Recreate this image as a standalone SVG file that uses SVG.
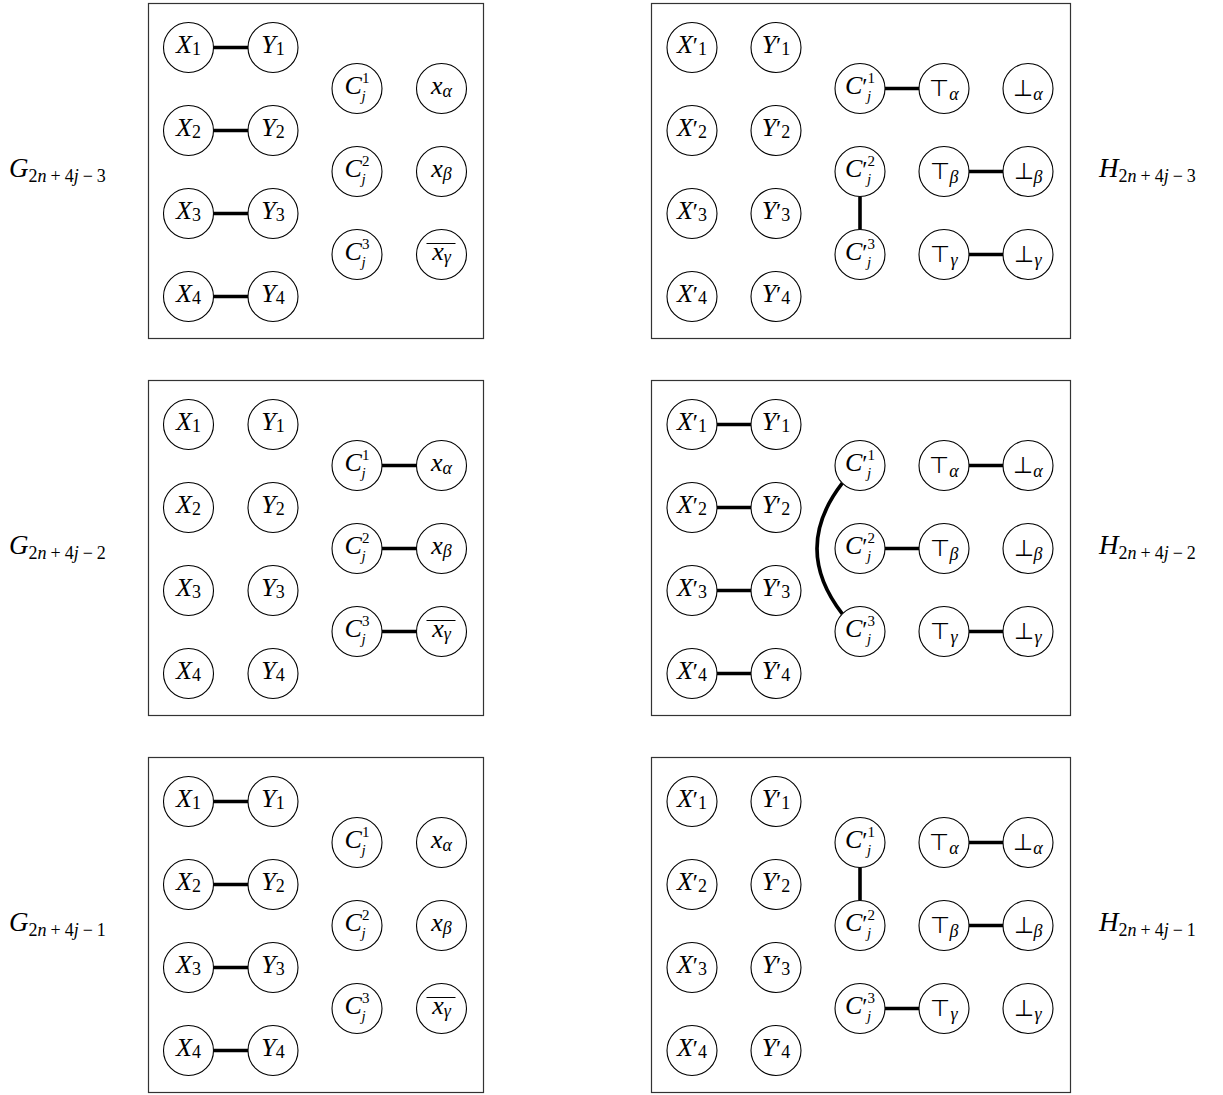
<svg xmlns="http://www.w3.org/2000/svg" width="1223" height="1095" viewBox="0 0 1223 1095">
<style>
.box{fill:none;stroke:#333;stroke-width:1.2}
.n circle{fill:#fff;stroke:#000;stroke-width:1.1}
.t{font-family:"Liberation Serif",serif;font-size:26px;text-anchor:middle;fill:#000}
.lab{font-family:"Liberation Serif",serif;font-size:27px;fill:#000}
.i{font-style:italic}
.s{font-size:18px}
.ss{font-size:15px}
.p{font-size:24px}
.ls{font-size:18px}
.op{font-family:"DejaVu Sans",sans-serif;font-size:23px;font-style:normal;font-weight:200}
.e{stroke:#000;stroke-width:3.6;fill:none}
.ol{stroke:#000;stroke-width:1}
</style>
<rect width="1223" height="1095" fill="#fff"/>
<g id="frames">
<rect class="box" x="148.5" y="3.5" width="335" height="335"/>
<rect class="box" x="651.5" y="3.5" width="419" height="335"/>
<rect class="box" x="148.5" y="380.5" width="335" height="335"/>
<rect class="box" x="651.5" y="380.5" width="419" height="335"/>
<rect class="box" x="148.5" y="757.5" width="335" height="335"/>
<rect class="box" x="651.5" y="757.5" width="419" height="335"/>
</g>
<g id="labels">
<text class="lab" x="9" y="177"><tspan class="i">G</tspan><tspan class="ls" dy="5">2</tspan><tspan class="ls i">n</tspan><tspan class="ls" dx="4">+</tspan><tspan class="ls" dx="4">4</tspan><tspan class="ls i">j</tspan><tspan class="ls" dx="4">−</tspan><tspan class="ls" dx="4">3</tspan></text>
<text class="lab" x="9" y="554"><tspan class="i">G</tspan><tspan class="ls" dy="5">2</tspan><tspan class="ls i">n</tspan><tspan class="ls" dx="4">+</tspan><tspan class="ls" dx="4">4</tspan><tspan class="ls i">j</tspan><tspan class="ls" dx="4">−</tspan><tspan class="ls" dx="4">2</tspan></text>
<text class="lab" x="9" y="931"><tspan class="i">G</tspan><tspan class="ls" dy="5">2</tspan><tspan class="ls i">n</tspan><tspan class="ls" dx="4">+</tspan><tspan class="ls" dx="4">4</tspan><tspan class="ls i">j</tspan><tspan class="ls" dx="4">−</tspan><tspan class="ls" dx="4">1</tspan></text>
<text class="lab" x="1099" y="177"><tspan class="i">H</tspan><tspan class="ls" dy="5">2</tspan><tspan class="ls i">n</tspan><tspan class="ls" dx="4">+</tspan><tspan class="ls" dx="4">4</tspan><tspan class="ls i">j</tspan><tspan class="ls" dx="4">−</tspan><tspan class="ls" dx="4">3</tspan></text>
<text class="lab" x="1099" y="554"><tspan class="i">H</tspan><tspan class="ls" dy="5">2</tspan><tspan class="ls i">n</tspan><tspan class="ls" dx="4">+</tspan><tspan class="ls" dx="4">4</tspan><tspan class="ls i">j</tspan><tspan class="ls" dx="4">−</tspan><tspan class="ls" dx="4">2</tspan></text>
<text class="lab" x="1099" y="931"><tspan class="i">H</tspan><tspan class="ls" dy="5">2</tspan><tspan class="ls i">n</tspan><tspan class="ls" dx="4">+</tspan><tspan class="ls" dx="4">4</tspan><tspan class="ls i">j</tspan><tspan class="ls" dx="4">−</tspan><tspan class="ls" dx="4">1</tspan></text>
</g>
<g id="connectors">
<line class="e" x1="213.5" y1="47.5" x2="248" y2="47.5"/>
<line class="e" x1="213.5" y1="130.5" x2="248" y2="130.5"/>
<line class="e" x1="213.5" y1="213.5" x2="248" y2="213.5"/>
<line class="e" x1="213.5" y1="296.5" x2="248" y2="296.5"/>
<line class="e" x1="885" y1="88.5" x2="919" y2="88.5"/>
<line class="e" x1="860" y1="196.5" x2="860" y2="229.5"/>
<line class="e" x1="969" y1="171.5" x2="1003" y2="171.5"/>
<line class="e" x1="969" y1="254.5" x2="1003" y2="254.5"/>
<line class="e" x1="382" y1="465.5" x2="416.5" y2="465.5"/>
<line class="e" x1="382" y1="548.5" x2="416.5" y2="548.5"/>
<line class="e" x1="382" y1="631.5" x2="416.5" y2="631.5"/>
<line class="e" x1="717" y1="424.5" x2="751" y2="424.5"/>
<line class="e" x1="717" y1="507.5" x2="751" y2="507.5"/>
<line class="e" x1="717" y1="590.5" x2="751" y2="590.5"/>
<line class="e" x1="717" y1="673.5" x2="751" y2="673.5"/>
<path class="e" d="M842.3,483.2 Q791.7,548.5 842.3,613.8"/>
<line class="e" x1="885" y1="548.5" x2="919" y2="548.5"/>
<line class="e" x1="969" y1="465.5" x2="1003" y2="465.5"/>
<line class="e" x1="969" y1="631.5" x2="1003" y2="631.5"/>
<line class="e" x1="213.5" y1="801.5" x2="248" y2="801.5"/>
<line class="e" x1="213.5" y1="884.5" x2="248" y2="884.5"/>
<line class="e" x1="213.5" y1="967.5" x2="248" y2="967.5"/>
<line class="e" x1="213.5" y1="1050.5" x2="248" y2="1050.5"/>
<line class="e" x1="969" y1="842.5" x2="1003" y2="842.5"/>
<line class="e" x1="860" y1="867.5" x2="860" y2="900.5"/>
<line class="e" x1="969" y1="925.5" x2="1003" y2="925.5"/>
<line class="e" x1="885" y1="1008.5" x2="919" y2="1008.5"/>
</g>
<g id="G1">
<g class="n" id="G1-X1" transform="translate(188.5,47.5)"><circle r="25"/><text class="t" y="5"><tspan class="i">X</tspan><tspan class="s" dy="2">1</tspan></text></g>
<g class="n" id="G1-Y1" transform="translate(273,47.5)"><circle r="25"/><text class="t" y="5"><tspan class="i">Y</tspan><tspan class="s" dy="2">1</tspan></text></g>
<g class="n" id="G1-X2" transform="translate(188.5,130.5)"><circle r="25"/><text class="t" y="5"><tspan class="i">X</tspan><tspan class="s" dy="2">2</tspan></text></g>
<g class="n" id="G1-Y2" transform="translate(273,130.5)"><circle r="25"/><text class="t" y="5"><tspan class="i">Y</tspan><tspan class="s" dy="2">2</tspan></text></g>
<g class="n" id="G1-X3" transform="translate(188.5,213.5)"><circle r="25"/><text class="t" y="5"><tspan class="i">X</tspan><tspan class="s" dy="2">3</tspan></text></g>
<g class="n" id="G1-Y3" transform="translate(273,213.5)"><circle r="25"/><text class="t" y="5"><tspan class="i">Y</tspan><tspan class="s" dy="2">3</tspan></text></g>
<g class="n" id="G1-X4" transform="translate(188.5,296.5)"><circle r="25"/><text class="t" y="5"><tspan class="i">X</tspan><tspan class="s" dy="2">4</tspan></text></g>
<g class="n" id="G1-Y4" transform="translate(273,296.5)"><circle r="25"/><text class="t" y="5"><tspan class="i">Y</tspan><tspan class="s" dy="2">4</tspan></text></g>
<g class="n" id="G1-C1" transform="translate(357,88.5)"><circle r="25"/><text class="t" y="5"><tspan class="i">C</tspan><tspan class="ss" dy="-11">1</tspan><tspan class="ss i" dx="-8" dy="18">j</tspan></text></g>
<g class="n" id="G1-C2" transform="translate(357,171.5)"><circle r="25"/><text class="t" y="5"><tspan class="i">C</tspan><tspan class="ss" dy="-11">2</tspan><tspan class="ss i" dx="-8" dy="18">j</tspan></text></g>
<g class="n" id="G1-C3" transform="translate(357,254.5)"><circle r="25"/><text class="t" y="5"><tspan class="i">C</tspan><tspan class="ss" dy="-11">3</tspan><tspan class="ss i" dx="-8" dy="18">j</tspan></text></g>
<g class="n" id="G1-xa" transform="translate(441.5,88.5)"><circle r="25"/><text class="t" y="5"><tspan class="i">x</tspan><tspan class="s i" dy="3">α</tspan></text></g>
<g class="n" id="G1-xb" transform="translate(441.5,171.5)"><circle r="25"/><text class="t" y="5"><tspan class="i">x</tspan><tspan class="s i" dy="3">β</tspan></text></g>
<g class="n" id="G1-xg" transform="translate(441.5,254.5)"><circle r="25"/><text class="t" y="5"><tspan class="i">x</tspan><tspan class="s i" dy="3">γ</tspan></text><line class="ol" x1="-15" y1="-11" x2="14" y2="-11"/></g>
</g>
<g id="H1">
<g class="n" id="H1-X1" transform="translate(692,47.5)"><circle r="25"/><text class="t" y="5"><tspan class="i">X</tspan><tspan class="p">′</tspan><tspan class="s" dy="2">1</tspan></text></g>
<g class="n" id="H1-Y1" transform="translate(776,47.5)"><circle r="25"/><text class="t" y="5"><tspan class="i">Y</tspan><tspan class="p">′</tspan><tspan class="s" dy="2">1</tspan></text></g>
<g class="n" id="H1-X2" transform="translate(692,130.5)"><circle r="25"/><text class="t" y="5"><tspan class="i">X</tspan><tspan class="p">′</tspan><tspan class="s" dy="2">2</tspan></text></g>
<g class="n" id="H1-Y2" transform="translate(776,130.5)"><circle r="25"/><text class="t" y="5"><tspan class="i">Y</tspan><tspan class="p">′</tspan><tspan class="s" dy="2">2</tspan></text></g>
<g class="n" id="H1-X3" transform="translate(692,213.5)"><circle r="25"/><text class="t" y="5"><tspan class="i">X</tspan><tspan class="p">′</tspan><tspan class="s" dy="2">3</tspan></text></g>
<g class="n" id="H1-Y3" transform="translate(776,213.5)"><circle r="25"/><text class="t" y="5"><tspan class="i">Y</tspan><tspan class="p">′</tspan><tspan class="s" dy="2">3</tspan></text></g>
<g class="n" id="H1-X4" transform="translate(692,296.5)"><circle r="25"/><text class="t" y="5"><tspan class="i">X</tspan><tspan class="p">′</tspan><tspan class="s" dy="2">4</tspan></text></g>
<g class="n" id="H1-Y4" transform="translate(776,296.5)"><circle r="25"/><text class="t" y="5"><tspan class="i">Y</tspan><tspan class="p">′</tspan><tspan class="s" dy="2">4</tspan></text></g>
<g class="n" id="H1-C1" transform="translate(860,88.5)"><circle r="25"/><text class="t" y="5"><tspan class="i">C</tspan><tspan class="p">′</tspan><tspan class="ss" dy="-11">1</tspan><tspan class="ss i" dx="-8" dy="18">j</tspan></text></g>
<g class="n" id="H1-C2" transform="translate(860,171.5)"><circle r="25"/><text class="t" y="5"><tspan class="i">C</tspan><tspan class="p">′</tspan><tspan class="ss" dy="-11">2</tspan><tspan class="ss i" dx="-8" dy="18">j</tspan></text></g>
<g class="n" id="H1-C3" transform="translate(860,254.5)"><circle r="25"/><text class="t" y="5"><tspan class="i">C</tspan><tspan class="p">′</tspan><tspan class="ss" dy="-11">3</tspan><tspan class="ss i" dx="-8" dy="18">j</tspan></text></g>
<g class="n" id="H1-Ta" transform="translate(944,88.5)"><circle r="25"/><text class="t" y="7"><tspan class="op">⊤</tspan><tspan class="s i" dy="4">α</tspan></text></g>
<g class="n" id="H1-Tb" transform="translate(944,171.5)"><circle r="25"/><text class="t" y="7"><tspan class="op">⊤</tspan><tspan class="s i" dy="4">β</tspan></text></g>
<g class="n" id="H1-Tg" transform="translate(944,254.5)"><circle r="25"/><text class="t" y="7"><tspan class="op">⊤</tspan><tspan class="s i" dy="4">γ</tspan></text></g>
<g class="n" id="H1-Fa" transform="translate(1028,88.5)"><circle r="25"/><text class="t" y="7"><tspan class="op">⊥</tspan><tspan class="s i" dy="4">α</tspan></text></g>
<g class="n" id="H1-Fb" transform="translate(1028,171.5)"><circle r="25"/><text class="t" y="7"><tspan class="op">⊥</tspan><tspan class="s i" dy="4">β</tspan></text></g>
<g class="n" id="H1-Fg" transform="translate(1028,254.5)"><circle r="25"/><text class="t" y="7"><tspan class="op">⊥</tspan><tspan class="s i" dy="4">γ</tspan></text></g>
</g>
<g id="G2">
<g class="n" id="G2-X1" transform="translate(188.5,424.5)"><circle r="25"/><text class="t" y="5"><tspan class="i">X</tspan><tspan class="s" dy="2">1</tspan></text></g>
<g class="n" id="G2-Y1" transform="translate(273,424.5)"><circle r="25"/><text class="t" y="5"><tspan class="i">Y</tspan><tspan class="s" dy="2">1</tspan></text></g>
<g class="n" id="G2-X2" transform="translate(188.5,507.5)"><circle r="25"/><text class="t" y="5"><tspan class="i">X</tspan><tspan class="s" dy="2">2</tspan></text></g>
<g class="n" id="G2-Y2" transform="translate(273,507.5)"><circle r="25"/><text class="t" y="5"><tspan class="i">Y</tspan><tspan class="s" dy="2">2</tspan></text></g>
<g class="n" id="G2-X3" transform="translate(188.5,590.5)"><circle r="25"/><text class="t" y="5"><tspan class="i">X</tspan><tspan class="s" dy="2">3</tspan></text></g>
<g class="n" id="G2-Y3" transform="translate(273,590.5)"><circle r="25"/><text class="t" y="5"><tspan class="i">Y</tspan><tspan class="s" dy="2">3</tspan></text></g>
<g class="n" id="G2-X4" transform="translate(188.5,673.5)"><circle r="25"/><text class="t" y="5"><tspan class="i">X</tspan><tspan class="s" dy="2">4</tspan></text></g>
<g class="n" id="G2-Y4" transform="translate(273,673.5)"><circle r="25"/><text class="t" y="5"><tspan class="i">Y</tspan><tspan class="s" dy="2">4</tspan></text></g>
<g class="n" id="G2-C1" transform="translate(357,465.5)"><circle r="25"/><text class="t" y="5"><tspan class="i">C</tspan><tspan class="ss" dy="-11">1</tspan><tspan class="ss i" dx="-8" dy="18">j</tspan></text></g>
<g class="n" id="G2-C2" transform="translate(357,548.5)"><circle r="25"/><text class="t" y="5"><tspan class="i">C</tspan><tspan class="ss" dy="-11">2</tspan><tspan class="ss i" dx="-8" dy="18">j</tspan></text></g>
<g class="n" id="G2-C3" transform="translate(357,631.5)"><circle r="25"/><text class="t" y="5"><tspan class="i">C</tspan><tspan class="ss" dy="-11">3</tspan><tspan class="ss i" dx="-8" dy="18">j</tspan></text></g>
<g class="n" id="G2-xa" transform="translate(441.5,465.5)"><circle r="25"/><text class="t" y="5"><tspan class="i">x</tspan><tspan class="s i" dy="3">α</tspan></text></g>
<g class="n" id="G2-xb" transform="translate(441.5,548.5)"><circle r="25"/><text class="t" y="5"><tspan class="i">x</tspan><tspan class="s i" dy="3">β</tspan></text></g>
<g class="n" id="G2-xg" transform="translate(441.5,631.5)"><circle r="25"/><text class="t" y="5"><tspan class="i">x</tspan><tspan class="s i" dy="3">γ</tspan></text><line class="ol" x1="-15" y1="-11" x2="14" y2="-11"/></g>
</g>
<g id="H2">
<g class="n" id="H2-X1" transform="translate(692,424.5)"><circle r="25"/><text class="t" y="5"><tspan class="i">X</tspan><tspan class="p">′</tspan><tspan class="s" dy="2">1</tspan></text></g>
<g class="n" id="H2-Y1" transform="translate(776,424.5)"><circle r="25"/><text class="t" y="5"><tspan class="i">Y</tspan><tspan class="p">′</tspan><tspan class="s" dy="2">1</tspan></text></g>
<g class="n" id="H2-X2" transform="translate(692,507.5)"><circle r="25"/><text class="t" y="5"><tspan class="i">X</tspan><tspan class="p">′</tspan><tspan class="s" dy="2">2</tspan></text></g>
<g class="n" id="H2-Y2" transform="translate(776,507.5)"><circle r="25"/><text class="t" y="5"><tspan class="i">Y</tspan><tspan class="p">′</tspan><tspan class="s" dy="2">2</tspan></text></g>
<g class="n" id="H2-X3" transform="translate(692,590.5)"><circle r="25"/><text class="t" y="5"><tspan class="i">X</tspan><tspan class="p">′</tspan><tspan class="s" dy="2">3</tspan></text></g>
<g class="n" id="H2-Y3" transform="translate(776,590.5)"><circle r="25"/><text class="t" y="5"><tspan class="i">Y</tspan><tspan class="p">′</tspan><tspan class="s" dy="2">3</tspan></text></g>
<g class="n" id="H2-X4" transform="translate(692,673.5)"><circle r="25"/><text class="t" y="5"><tspan class="i">X</tspan><tspan class="p">′</tspan><tspan class="s" dy="2">4</tspan></text></g>
<g class="n" id="H2-Y4" transform="translate(776,673.5)"><circle r="25"/><text class="t" y="5"><tspan class="i">Y</tspan><tspan class="p">′</tspan><tspan class="s" dy="2">4</tspan></text></g>
<g class="n" id="H2-C1" transform="translate(860,465.5)"><circle r="25"/><text class="t" y="5"><tspan class="i">C</tspan><tspan class="p">′</tspan><tspan class="ss" dy="-11">1</tspan><tspan class="ss i" dx="-8" dy="18">j</tspan></text></g>
<g class="n" id="H2-C2" transform="translate(860,548.5)"><circle r="25"/><text class="t" y="5"><tspan class="i">C</tspan><tspan class="p">′</tspan><tspan class="ss" dy="-11">2</tspan><tspan class="ss i" dx="-8" dy="18">j</tspan></text></g>
<g class="n" id="H2-C3" transform="translate(860,631.5)"><circle r="25"/><text class="t" y="5"><tspan class="i">C</tspan><tspan class="p">′</tspan><tspan class="ss" dy="-11">3</tspan><tspan class="ss i" dx="-8" dy="18">j</tspan></text></g>
<g class="n" id="H2-Ta" transform="translate(944,465.5)"><circle r="25"/><text class="t" y="7"><tspan class="op">⊤</tspan><tspan class="s i" dy="4">α</tspan></text></g>
<g class="n" id="H2-Tb" transform="translate(944,548.5)"><circle r="25"/><text class="t" y="7"><tspan class="op">⊤</tspan><tspan class="s i" dy="4">β</tspan></text></g>
<g class="n" id="H2-Tg" transform="translate(944,631.5)"><circle r="25"/><text class="t" y="7"><tspan class="op">⊤</tspan><tspan class="s i" dy="4">γ</tspan></text></g>
<g class="n" id="H2-Fa" transform="translate(1028,465.5)"><circle r="25"/><text class="t" y="7"><tspan class="op">⊥</tspan><tspan class="s i" dy="4">α</tspan></text></g>
<g class="n" id="H2-Fb" transform="translate(1028,548.5)"><circle r="25"/><text class="t" y="7"><tspan class="op">⊥</tspan><tspan class="s i" dy="4">β</tspan></text></g>
<g class="n" id="H2-Fg" transform="translate(1028,631.5)"><circle r="25"/><text class="t" y="7"><tspan class="op">⊥</tspan><tspan class="s i" dy="4">γ</tspan></text></g>
</g>
<g id="G3">
<g class="n" id="G3-X1" transform="translate(188.5,801.5)"><circle r="25"/><text class="t" y="5"><tspan class="i">X</tspan><tspan class="s" dy="2">1</tspan></text></g>
<g class="n" id="G3-Y1" transform="translate(273,801.5)"><circle r="25"/><text class="t" y="5"><tspan class="i">Y</tspan><tspan class="s" dy="2">1</tspan></text></g>
<g class="n" id="G3-X2" transform="translate(188.5,884.5)"><circle r="25"/><text class="t" y="5"><tspan class="i">X</tspan><tspan class="s" dy="2">2</tspan></text></g>
<g class="n" id="G3-Y2" transform="translate(273,884.5)"><circle r="25"/><text class="t" y="5"><tspan class="i">Y</tspan><tspan class="s" dy="2">2</tspan></text></g>
<g class="n" id="G3-X3" transform="translate(188.5,967.5)"><circle r="25"/><text class="t" y="5"><tspan class="i">X</tspan><tspan class="s" dy="2">3</tspan></text></g>
<g class="n" id="G3-Y3" transform="translate(273,967.5)"><circle r="25"/><text class="t" y="5"><tspan class="i">Y</tspan><tspan class="s" dy="2">3</tspan></text></g>
<g class="n" id="G3-X4" transform="translate(188.5,1050.5)"><circle r="25"/><text class="t" y="5"><tspan class="i">X</tspan><tspan class="s" dy="2">4</tspan></text></g>
<g class="n" id="G3-Y4" transform="translate(273,1050.5)"><circle r="25"/><text class="t" y="5"><tspan class="i">Y</tspan><tspan class="s" dy="2">4</tspan></text></g>
<g class="n" id="G3-C1" transform="translate(357,842.5)"><circle r="25"/><text class="t" y="5"><tspan class="i">C</tspan><tspan class="ss" dy="-11">1</tspan><tspan class="ss i" dx="-8" dy="18">j</tspan></text></g>
<g class="n" id="G3-C2" transform="translate(357,925.5)"><circle r="25"/><text class="t" y="5"><tspan class="i">C</tspan><tspan class="ss" dy="-11">2</tspan><tspan class="ss i" dx="-8" dy="18">j</tspan></text></g>
<g class="n" id="G3-C3" transform="translate(357,1008.5)"><circle r="25"/><text class="t" y="5"><tspan class="i">C</tspan><tspan class="ss" dy="-11">3</tspan><tspan class="ss i" dx="-8" dy="18">j</tspan></text></g>
<g class="n" id="G3-xa" transform="translate(441.5,842.5)"><circle r="25"/><text class="t" y="5"><tspan class="i">x</tspan><tspan class="s i" dy="3">α</tspan></text></g>
<g class="n" id="G3-xb" transform="translate(441.5,925.5)"><circle r="25"/><text class="t" y="5"><tspan class="i">x</tspan><tspan class="s i" dy="3">β</tspan></text></g>
<g class="n" id="G3-xg" transform="translate(441.5,1008.5)"><circle r="25"/><text class="t" y="5"><tspan class="i">x</tspan><tspan class="s i" dy="3">γ</tspan></text><line class="ol" x1="-15" y1="-11" x2="14" y2="-11"/></g>
</g>
<g id="H3">
<g class="n" id="H3-X1" transform="translate(692,801.5)"><circle r="25"/><text class="t" y="5"><tspan class="i">X</tspan><tspan class="p">′</tspan><tspan class="s" dy="2">1</tspan></text></g>
<g class="n" id="H3-Y1" transform="translate(776,801.5)"><circle r="25"/><text class="t" y="5"><tspan class="i">Y</tspan><tspan class="p">′</tspan><tspan class="s" dy="2">1</tspan></text></g>
<g class="n" id="H3-X2" transform="translate(692,884.5)"><circle r="25"/><text class="t" y="5"><tspan class="i">X</tspan><tspan class="p">′</tspan><tspan class="s" dy="2">2</tspan></text></g>
<g class="n" id="H3-Y2" transform="translate(776,884.5)"><circle r="25"/><text class="t" y="5"><tspan class="i">Y</tspan><tspan class="p">′</tspan><tspan class="s" dy="2">2</tspan></text></g>
<g class="n" id="H3-X3" transform="translate(692,967.5)"><circle r="25"/><text class="t" y="5"><tspan class="i">X</tspan><tspan class="p">′</tspan><tspan class="s" dy="2">3</tspan></text></g>
<g class="n" id="H3-Y3" transform="translate(776,967.5)"><circle r="25"/><text class="t" y="5"><tspan class="i">Y</tspan><tspan class="p">′</tspan><tspan class="s" dy="2">3</tspan></text></g>
<g class="n" id="H3-X4" transform="translate(692,1050.5)"><circle r="25"/><text class="t" y="5"><tspan class="i">X</tspan><tspan class="p">′</tspan><tspan class="s" dy="2">4</tspan></text></g>
<g class="n" id="H3-Y4" transform="translate(776,1050.5)"><circle r="25"/><text class="t" y="5"><tspan class="i">Y</tspan><tspan class="p">′</tspan><tspan class="s" dy="2">4</tspan></text></g>
<g class="n" id="H3-C1" transform="translate(860,842.5)"><circle r="25"/><text class="t" y="5"><tspan class="i">C</tspan><tspan class="p">′</tspan><tspan class="ss" dy="-11">1</tspan><tspan class="ss i" dx="-8" dy="18">j</tspan></text></g>
<g class="n" id="H3-C2" transform="translate(860,925.5)"><circle r="25"/><text class="t" y="5"><tspan class="i">C</tspan><tspan class="p">′</tspan><tspan class="ss" dy="-11">2</tspan><tspan class="ss i" dx="-8" dy="18">j</tspan></text></g>
<g class="n" id="H3-C3" transform="translate(860,1008.5)"><circle r="25"/><text class="t" y="5"><tspan class="i">C</tspan><tspan class="p">′</tspan><tspan class="ss" dy="-11">3</tspan><tspan class="ss i" dx="-8" dy="18">j</tspan></text></g>
<g class="n" id="H3-Ta" transform="translate(944,842.5)"><circle r="25"/><text class="t" y="7"><tspan class="op">⊤</tspan><tspan class="s i" dy="4">α</tspan></text></g>
<g class="n" id="H3-Tb" transform="translate(944,925.5)"><circle r="25"/><text class="t" y="7"><tspan class="op">⊤</tspan><tspan class="s i" dy="4">β</tspan></text></g>
<g class="n" id="H3-Tg" transform="translate(944,1008.5)"><circle r="25"/><text class="t" y="7"><tspan class="op">⊤</tspan><tspan class="s i" dy="4">γ</tspan></text></g>
<g class="n" id="H3-Fa" transform="translate(1028,842.5)"><circle r="25"/><text class="t" y="7"><tspan class="op">⊥</tspan><tspan class="s i" dy="4">α</tspan></text></g>
<g class="n" id="H3-Fb" transform="translate(1028,925.5)"><circle r="25"/><text class="t" y="7"><tspan class="op">⊥</tspan><tspan class="s i" dy="4">β</tspan></text></g>
<g class="n" id="H3-Fg" transform="translate(1028,1008.5)"><circle r="25"/><text class="t" y="7"><tspan class="op">⊥</tspan><tspan class="s i" dy="4">γ</tspan></text></g>
</g>
</svg>
